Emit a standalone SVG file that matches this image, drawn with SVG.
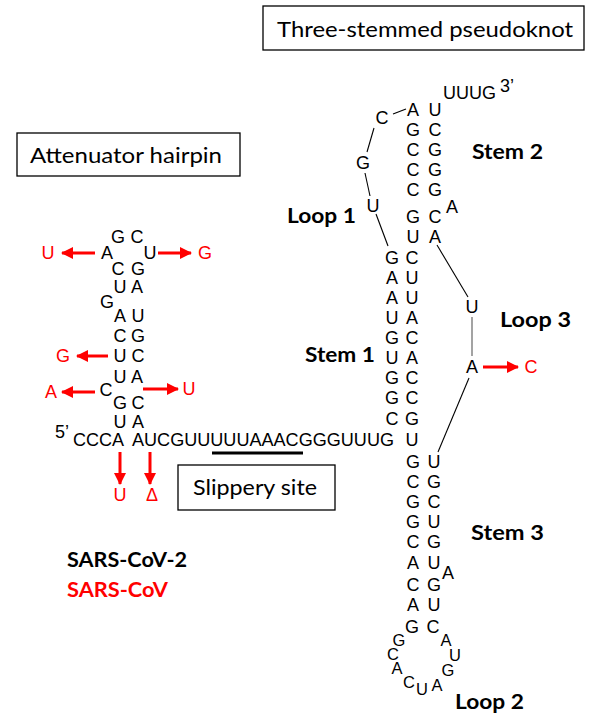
<svg xmlns="http://www.w3.org/2000/svg" width="592" height="714" viewBox="0 0 592 714">
<defs>
<style>
.n{font-family:"Liberation Sans",Arial,sans-serif;font-size:18px;text-anchor:middle;fill:#000}
.s{font-family:"Liberation Sans",Arial,sans-serif;font-size:18px;fill:#000}
.k{font-size:16.5px}
.r{fill:#ff0000}
.lb{font-family:Lato,"Open Sans",sans-serif;font-weight:bold;font-size:21px;fill:#000}
.bx{font-family:Lato,"Open Sans",sans-serif;font-size:22px;fill:#000}
.box{fill:#fff;stroke:#000;stroke-width:1.3}
.ln{stroke:#000;stroke-width:1.1;fill:none}
.ar{stroke:#ff0000;stroke-width:3;fill:none;marker-end:url(#ah)}
</style>
<marker id="ah" markerUnits="userSpaceOnUse" markerWidth="12" markerHeight="12" refX="11" refY="6" orient="auto">
<path d="M0,0 L12,6 L0,12 Z" fill="#ff0000"/>
</marker>
</defs>
<rect width="592" height="714" fill="#fff"/>

<g id="box-pseudoknot">
<rect class="box" x="263" y="6" width="321" height="44"/>
<text class="bx" x="277" y="37" textLength="296" lengthAdjust="spacingAndGlyphs">Three-stemmed pseudoknot</text>
</g>
<g id="box-hairpin">
<rect class="box" x="17" y="133" width="223" height="43"/>
<text class="bx" x="30" y="163" textLength="192" lengthAdjust="spacingAndGlyphs">Attenuator hairpin</text>
</g>
<g id="box-slippery">
<rect class="box" x="178" y="465" width="157" height="45"/>
<text class="bx" x="193" y="495" textLength="124" lengthAdjust="spacingAndGlyphs">Slippery site</text>
</g>

<g id="connectors">
<line class="ln" x1="393" y1="114" x2="406" y2="109"/>
<line class="ln" x1="374" y1="128" x2="367" y2="152"/>
<line class="ln" x1="365" y1="173" x2="370" y2="196"/>
<line class="ln" x1="376" y1="214" x2="388" y2="246"/>
<line class="ln" x1="437" y1="245" x2="468" y2="297"/>
<line x1="472" y1="317" x2="472" y2="356" stroke="#666" stroke-width="1.2"/>
<line class="ln" x1="469" y1="378" x2="438" y2="452"/>
<line x1="212" y1="453" x2="303" y2="453" stroke="#000" stroke-width="3"/>
<line class="ar" x1="95" y1="253" x2="62" y2="253"/>
<line class="ar" x1="158" y1="253" x2="191" y2="253"/>
<line class="ar" x1="108" y1="356" x2="77" y2="356"/>
<line class="ar" x1="95" y1="392" x2="62" y2="392"/>
<line class="ar" x1="143" y1="389" x2="178" y2="389"/>
<line class="ar" x1="120" y1="452" x2="120" y2="484"/>
<line class="ar" x1="150" y1="452" x2="150" y2="484"/>
<line class="ar" x1="483" y1="367" x2="518" y2="367"/>
</g>

<g id="hairpin">
<text class="n" x="118" y="243">G</text><text class="n" x="137" y="243">C</text>
<text class="n" x="107" y="259">A</text><text class="n" x="150" y="259">U</text>
<text class="n" x="118" y="275">C</text><text class="n" x="138" y="275">G</text>
<text class="n" x="120" y="293">U</text><text class="n" x="137" y="293">A</text>
<text class="n" x="107" y="308">G</text>
<text class="n" x="120" y="322">A</text><text class="n" x="138" y="322">U</text>
<text class="n" x="120" y="342">C</text><text class="n" x="138" y="342">G</text>
<text class="n" x="120" y="362">U</text><text class="n" x="138" y="362">C</text>
<text class="n" x="120" y="383">U</text><text class="n" x="137" y="383">A</text>
<text class="n" x="106" y="396">C</text>
<text class="n" x="120" y="409">G</text><text class="n" x="138" y="409">C</text>
<text class="n" x="120" y="428">U</text><text class="n" x="138" y="428">A</text>
<text class="s" x="55" y="438" font-size="17">5’</text>
<text class="s" x="73" y="446">CCCA</text>
<text class="s" x="132" y="446" textLength="262" lengthAdjust="spacingAndGlyphs">AUCGUUUUUAAACGGGUUUG</text>
</g>

<g id="mutations">
<text class="n r" x="48" y="259">U</text>
<text class="n r" x="205" y="259">G</text>
<text class="n r" x="63" y="362">G</text>
<text class="n r" x="51" y="398">A</text>
<text class="n r" x="189" y="395">U</text>
<text class="n r" x="120" y="501">U</text>
<text class="n r" x="152" y="501" font-size="16">Δ</text>
<text class="n r" x="531" y="373">C</text>
</g>

<g id="stem2">
<text class="n" x="413" y="116">A</text><text class="n" x="435" y="116">U</text>
<text class="n" x="413" y="136">G</text><text class="n" x="435" y="136">C</text>
<text class="n" x="413" y="156">C</text><text class="n" x="435" y="156">G</text>
<text class="n" x="413" y="176">C</text><text class="n" x="435" y="176">G</text>
<text class="n" x="413" y="196">C</text><text class="n" x="435" y="196">G</text>
<text class="n" x="413" y="223">G</text><text class="n" x="435" y="223">C</text>
<text class="n" x="413" y="243">U</text><text class="n" x="435" y="243">A</text>
<text class="n" x="452" y="213">A</text>
<text class="s" x="443" y="99">UUUG</text>
<text class="s" x="500" y="92" font-size="15">3’</text>
</g>

<g id="loop1">
<text class="n" x="382" y="124">C</text>
<text class="n" x="363" y="169">G</text>
<text class="n" x="373" y="212">U</text>
</g>

<g id="stem1">
<text class="n" x="392" y="264">G</text><text class="n" x="412" y="264">C</text>
<text class="n" x="392" y="284">A</text><text class="n" x="412" y="284">U</text>
<text class="n" x="392" y="304">A</text><text class="n" x="412" y="304">U</text>
<text class="n" x="392" y="324">U</text><text class="n" x="412" y="324">A</text>
<text class="n" x="392" y="344">G</text><text class="n" x="412" y="344">C</text>
<text class="n" x="392" y="364">U</text><text class="n" x="412" y="364">A</text>
<text class="n" x="392" y="384">G</text><text class="n" x="412" y="384">C</text>
<text class="n" x="392" y="404">G</text><text class="n" x="412" y="404">C</text>
<text class="n" x="392" y="425">C</text><text class="n" x="412" y="425">G</text>
<text class="n" x="412" y="446">U</text>
</g>

<g id="loop3">
<text class="n" x="472" y="313">U</text>
<text class="n" x="472" y="373">A</text>
</g>

<g id="stem3">
<text class="n" x="413" y="468">G</text><text class="n" x="434" y="468">U</text>
<text class="n" x="413" y="488">C</text><text class="n" x="434" y="488">G</text>
<text class="n" x="413" y="508">G</text><text class="n" x="434" y="508">C</text>
<text class="n" x="413" y="528">G</text><text class="n" x="434" y="528">U</text>
<text class="n" x="413" y="548">C</text><text class="n" x="434" y="548">G</text>
<text class="n" x="413" y="569">A</text><text class="n" x="434" y="569">U</text>
<text class="n" x="448" y="579">A</text>
<text class="n" x="413" y="591">C</text><text class="n" x="434" y="591">G</text>
<text class="n" x="413" y="611">A</text><text class="n" x="434" y="611">U</text>
<text class="n" x="412" y="633">G</text><text class="n" x="433" y="633">C</text>
</g>

<g id="loop2">
<text class="n k" x="399" y="646">G</text>
<text class="n k" x="393" y="660">C</text>
<text class="n k" x="397" y="674">A</text>
<text class="n k" x="409" y="688">C</text>
<text class="n k" x="422" y="695">U</text>
<text class="n k" x="437" y="691">A</text>
<text class="n k" x="448" y="676">G</text>
<text class="n k" x="455" y="661">U</text>
<text class="n k" x="446" y="646">A</text>
</g>

<g id="labels">
<text class="lb" x="472" y="159" textLength="71" lengthAdjust="spacingAndGlyphs">Stem 2</text>
<text class="lb" x="287" y="223" textLength="69" lengthAdjust="spacingAndGlyphs">Loop 1</text>
<text class="lb" x="500" y="327" textLength="71" lengthAdjust="spacingAndGlyphs">Loop 3</text>
<text class="lb" x="305" y="362" textLength="70" lengthAdjust="spacingAndGlyphs">Stem 1</text>
<text class="lb" x="471" y="540" textLength="73" lengthAdjust="spacingAndGlyphs">Stem 3</text>
<text class="lb" x="455" y="709" textLength="69" lengthAdjust="spacingAndGlyphs">Loop 2</text>
<text class="lb" x="67" y="567" textLength="120" lengthAdjust="spacingAndGlyphs">SARS-CoV-2</text>
<text class="lb" x="67" y="597" style="fill:#ff0000" textLength="101" lengthAdjust="spacingAndGlyphs">SARS-CoV</text>
</g>
</svg>
